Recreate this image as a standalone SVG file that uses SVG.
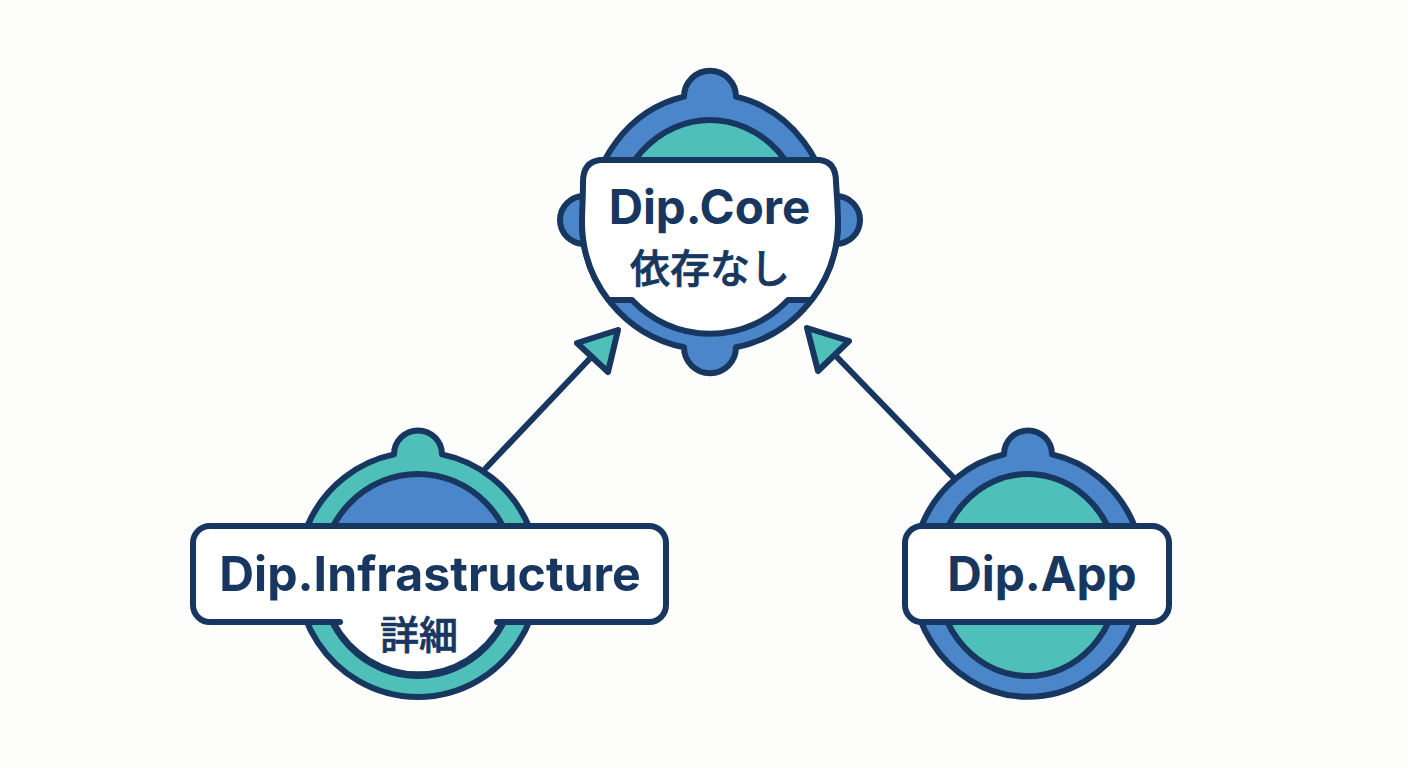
<svg xmlns="http://www.w3.org/2000/svg" width="1408" height="768" viewBox="0 0 1408 768">
<style>
.o{stroke:#173760;stroke-width:6;stroke-linejoin:round;stroke-linecap:round}
.b{fill:#4a86c9}.t{fill:#4fbfb9}.w{fill:#fff}.n{fill:none}
.en{font-family:"Inter","Liberation Sans",sans-serif;font-weight:700;fill:#173760;text-anchor:middle}
.ja{font-family:"Noto Sans CJK JP",sans-serif;font-weight:500;fill:#173760;stroke:#173760;stroke-width:0.7;text-anchor:middle}
</style>
<rect width="1408" height="768" fill="#fdfdfb"/>
<g id="connectors">
<line class="o" x1="486" y1="468" x2="597" y2="351"/>
<polygon class="o t" points="618,330 577,343 608,372"/>
<line class="o" x1="952" y1="476" x2="834" y2="354"/>
<polygon class="o t" points="807,328 849,341 818,371"/>
</g>
<g id="core">
<circle class="o b" cx="584" cy="220" r="24"/>
<circle class="o b" cx="836" cy="220" r="24"/>
<path class="o b" d="M684 96.700A26 26 0 0 1 736 96.700A120 128 0 0 1 830 222L838 222A128 128 0 0 1 736 347.300A26 26 0 0 1 684 347.300A128 128 0 0 1 582 222L590 222A120 128 0 0 1 684 96.700Z"/>
<ellipse class="o t" cx="710" cy="226" rx="96" ry="106"/>
<path class="o w" d="M600 160H820Q836 162 836 182C837 198 838 210 838 222A128 128 0 0 1 811.500 300H788A107 107 0 0 1 632 300H608.500A128 128 0 0 1 582 222C582 210 583 198 583 182Q583 162 600 160Z"/>
<text class="en" x="709.500" y="224" font-size="47.500">Dip.Core</text>
<text class="ja" x="710" y="283" font-size="40">依存なし</text>
</g>
<g id="infrastructure">
<path class="o t" d="M394 454.400A24 24 0 0 1 442 454.400A120.500 122.500 0 1 1 394 454.400Z"/>
<ellipse class="o b" cx="418" cy="575" rx="97" ry="101"/>
<rect x="193" y="526" width="473" height="96" rx="17" fill="#fff"/>
<path class="w" d="M333 622A97 101 0 0 0 503 622Z"/>
<path class="o n" d="M333 622A97 101 0 0 0 503 622"/>
<path class="o n" d="M340 622H210A17 17 0 0 1 193 605V543A17 17 0 0 1 210 526H649A17 17 0 0 1 666 543V605A17 17 0 0 1 649 622H497"/>
<text class="en" x="430" y="591" font-size="48.200">Dip.Infrastructure</text>
<text class="ja" x="419" y="649" font-size="39">詳細</text>
</g>
<g id="app">
<path class="o b" d="M1004 454.400A24 24 0 0 1 1052 454.400A116 122.500 0 1 1 1004 454.400Z"/>
<ellipse class="o t" cx="1028" cy="575" rx="91" ry="101"/>
<rect class="o w" x="905" y="526" width="264" height="96" rx="17"/>
<text class="en" x="1042" y="591" font-size="47.800">Dip.App</text>
</g>
</svg>
